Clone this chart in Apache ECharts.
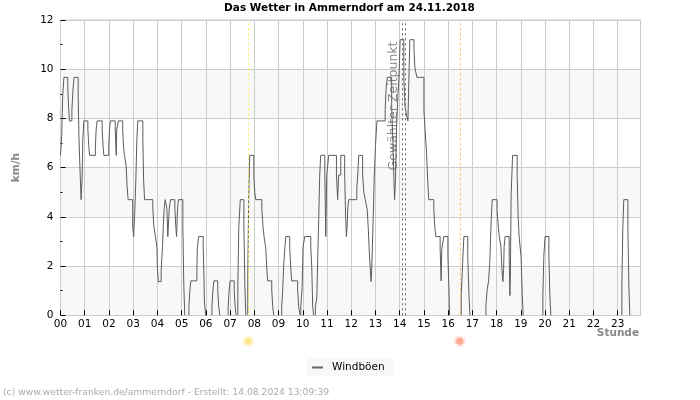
<!DOCTYPE html>
<html><head><meta charset="utf-8">
<style>html,body{margin:0;padding:0;background:#fff}#c{width:700px;height:400px}</style>
<script src="https://cdn.jsdelivr.net/npm/echarts@6/dist/echarts.min.js"></script>
</head><body><div id="c"></div>
<script>
const gustHours=[0,.05,.09,.14,.30,.34,.37,.47,.52,.56,.73,.76,.80,.83,.85,.89,.92,.96,1.13,1.17,1.20,1.44,1.47,1.51,1.72,1.76,1.79,1.99,2.02,2.06,2.26,2.30,2.32,2.39,2.57,2.60,2.64,2.71,2.75,2.79,2.98,3.02,3.07,3.11,3.15,3.19,3.40,3.43,3.47,3.81,3.85,3.92,3.98,4.0,4.04,
4.155,4.21,4.24,4.28,4.32,4.39,4.43,4.49,4.54,4.72,4.76,4.79,4.83,4.87,5.05,5.09,5.13,
5.30,5.34,5.38,5.63,5.65,5.70,5.89,5.92,5.94,5.99,
6.25,6.29,6.33,6.49,6.53,6.58,
6.92,6.96,7.0,7.17,7.21,7.25,
7.32,7.36,7.42,7.57,7.61,7.65,
7.73,7.77,7.81,7.98,8.02,8.06,8.31,8.36,8.40,8.47,8.51,8.55,8.72,8.76,8.80,
9.13,9.17,9.21,9.26,9.30,9.46,9.50,9.54,9.79,9.83,9.89,
9.92,9.94,9.97,10.01,10.08,10.33,10.37,10.41,10.45,
10.52,10.58,10.62,10.66,10.70,10.74,10.91,10.95,10.99,11.07,11.39,11.44,11.48,11.57,11.73,11.77,11.80,11.83,11.86,11.90,12.23,12.27,12.31,12.47,12.52,12.58,
12.62,12.66,12.70,12.74,12.78,12.82,12.85,12.87,12.91,12.95,13.0,13.06,13.40,13.44,13.49,13.67,13.72,13.76,13.79,13.83,13.87,13.93,13.97,14.02,14.17,14.22,14.27,14.34,14.38,14.42,14.59,14.63,14.71,15.0,15.05,15.11,15.15,15.20,15.41,15.45,15.49,15.67,15.71,15.74,15.82,15.99,16.03,16.06,
16.54,16.61,16.65,16.81,16.86,16.90,
17.56,17.61,17.67,17.72,17.78,17.82,18.02,18.07,18.11,18.18,18.22,18.26,18.29,18.31,18.35,18.52,18.55,18.57,18.60,18.66,18.85,18.89,18.93,19.01,19.06,19.10,
19.91,19.95,20.0,20.16,20.2,20.24,
23.17,23.21,23.25,23.42,23.46,23.5,23.92];
const gustValues=[6.5,7.3,8.9,9.67,9.23,8.35,7.9,8.35,9.23,9.67,8.9,7.3,6.07,5.23,4.7,5.5,7.09,7.9,7.53,6.83,6.5,6.83,7.53,7.9,7.53,6.83,6.5,6.83,7.53,7.9,7.53,6.5,7.53,7.9,7.53,6.83,6.5,6.07,5.23,4.7,3.63,3.2,4.35,5.5,7.09,7.9,7.09,5.5,4.7,4.35,3.63,3.2,2.76,1.9,1.37,
1.84,2.76,3.6,4.35,4.7,4.35,3.2,4.35,4.7,4.35,3.6,3.2,4.35,4.7,3.6,1.2,0,
.35,1.0,1.4,1.84,2.76,3.2,2.76,1.6,.55,0,
.35,1.0,1.4,1.0,.35,0,
.35,1.0,1.4,1.0,.35,0,
1.2,3.6,4.7,3.6,1.2,0,
1.6,4.9,6.5,5.6,5.0,4.7,4.3,3.58,3.2,2.76,1.98,1.4,1.03,.35,0,
.35,1.0,1.98,2.76,3.2,2.76,1.98,1.4,1.03,.35,0,
.35,.7,1.03,2.76,3.2,2.76,1.98,.35,0,
.35,.7,2.4,4,5.7,6.5,5.7,3.2,5.7,6.5,5.7,4.7,5.7,6.5,5.7,4,3.2,3.6,4.4,4.7,5.2,5.7,6.5,5.7,5,4.7,
4.7,4.3,3.6,2.7,2.0,1.37,2.0,2.7,4.04,5.64,6.86,7.9,8.35,9.23,9.67,8.5,7,5.6,4.7,5.6,7.6,9.0,9.67,11.2,9.67,8.5,8.2,7.9,9.6,11.2,10.8,10.05,9.67,8.35,7.5,6.6,5.6,4.7,4.3,3.6,3.2,2.7,1.4,2.7,3.2,2.4,1.2,0,
.8,2.4,3.2,2.4,.8,0,
.4,1.03,1.4,2.2,3.9,4.7,4.3,3.6,3.2,2.76,1.87,1.37,1.87,2.76,3.2,2.4,.8,1.64,4.9,6.5,5.66,4,3.2,2.4,.8,0,
.8,2.4,3.2,2.4,.8,0,
1.2,3.54,4.7,3.54,1.2,0,0];
const hourLabels=['00','01','02','03','04','05','06','07','08','09','10','11','12','13','14','15','16','17','18','19','20','21','22','23'];
const sunrise=7.75, sunset=16.48;
const selectedStart=14.09, selectedEnd=14.25;
const titleText='Das Wetter in Ammerndorf am 24.11.2018';
const footerText='(c) www.wetter-franken.de/ammerndorf - Erstellt: 14.08.2024 13:09:39';

const lineData=[];
gustHours.forEach((h,i)=>{
  lineData.push([h,gustValues[i]]);
  if(gustValues[i]===0 && gustValues[i+1]===0) lineData.push([h,null]);
  if(gustValues[i]===0 && i+1<gustHours.length && gustValues[i+1]!==0){
    lineData.push([h,null]);
    lineData.push([gustHours[i+1],0]);
  }
});
const F='"DejaVu Sans"';
const vline=(x,color,type)=>({xAxis:x,lineStyle:{color,type,width:1}});
const chart=echarts.init(document.getElementById('c'),null,{renderer:'canvas'});
chart.setOption({
  animation:false,
  backgroundColor:'#fff',
  title:[
    {text:titleText,left:349.5,top:3,padding:0,textAlign:'center',textStyle:{fontFamily:F,fontSize:10.5,fontWeight:'bold',color:'#000'}},
    {text:footerText,left:3,top:388,padding:0,textStyle:{fontFamily:F,fontSize:9.2,fontWeight:'normal',color:'#aaa'}},
    {text:'Stunde',right:61,top:328,padding:0,textStyle:{fontFamily:F,fontSize:10.5,fontWeight:'bold',color:'#888'}}
  ],
  grid:{left:60.5,right:59.5,top:20,height:295.3,show:true,borderColor:'#ccc',borderWidth:1,backgroundColor:'transparent'},
  legend:{left:307,top:358,padding:[4,9,3,5],backgroundColor:'#f8f8f8',itemWidth:11,itemHeight:2,itemGap:0,icon:'rect',
    textStyle:{fontFamily:F,fontSize:10.5,color:'#000',padding:[0,0,0,4]},data:['Windböen']},
  xAxis:{type:'value',min:0,max:23.94,interval:1,
    axisLine:{show:true,lineStyle:{color:'#ccc',width:1}},
    axisTick:{show:true,inside:true,length:5,lineStyle:{color:'#000',width:1}},
    axisLabel:{fontFamily:F,fontSize:10.5,color:'#000',margin:3,showMaxLabel:false,formatter:v=>hourLabels[v]||''},
    splitLine:{show:true,lineStyle:{color:'#ccc',width:1}}
  },
  yAxis:{type:'value',min:0,max:12,interval:2,
    name:'km/h',nameLocation:'middle',nameGap:39,nameRotate:90,
    nameTextStyle:{fontFamily:F,fontSize:10.5,fontWeight:'bold',color:'#888'},
    axisLine:{show:true,lineStyle:{color:'#ccc',width:1}},
    axisTick:{show:true,inside:true,length:5,lineStyle:{color:'#000',width:1}},
    minorTick:{show:true,splitNumber:2,length:2,lineStyle:{color:'#000',width:1}},
    axisLabel:{fontFamily:F,fontSize:10.5,color:'#000',margin:7},
    splitLine:{show:true,lineStyle:{color:'#ccc',width:1}},
    splitArea:{show:true,areaStyle:{color:['#f8f8f8','#fff']}}
  },
  series:[{
    name:'Windböen',type:'line',step:'end',showSymbol:false,connectNulls:false,
    data:lineData,itemStyle:{color:'#666'},
    lineStyle:{color:'#5c5c5c',width:1},
    markLine:{silent:true,symbol:'none',label:{show:false},animation:false,
      data:[vline(sunrise,'#ffee55',[2,3]),vline(sunset,'#ffbb44',[2,3]),
            vline(selectedStart,'#666',[2,3]),vline(selectedEnd,'#666',[2,3])]}
  }]
});
const sun=(hour,core,ray)=>{
  const cx=chart.convertToPixel({xAxisIndex:0},hour), cy=341.3, els=[];
  for(let i=0;i<12;i++){
    const a=i*Math.PI/6;
    els.push({type:'line',silent:true,shape:{x1:cx+Math.cos(a)*3,y1:cy+Math.sin(a)*3,x2:cx+Math.cos(a)*6,y2:cy+Math.sin(a)*6},style:{stroke:ray,lineWidth:1.2}});
  }
  els.push({type:'circle',silent:true,shape:{cx,cy,r:3.5},style:{fill:core}});
  return els;
};
chart.setOption({graphic:[
  ...sun(sunrise,'#ffe58f','#ffeeb8'),
  ...sun(sunset,'#ffa994','#ffcabd'),
  {type:'text',silent:true,x:chart.convertToPixel({xAxisIndex:0},selectedStart)-8,y:106,rotation:Math.PI/2,
   style:{text:'Gewählter Zeitpunkt',fontFamily:F,fontSize:12.5,fill:'#888',align:'center',verticalAlign:'middle'}}
]});
</script></body></html>
